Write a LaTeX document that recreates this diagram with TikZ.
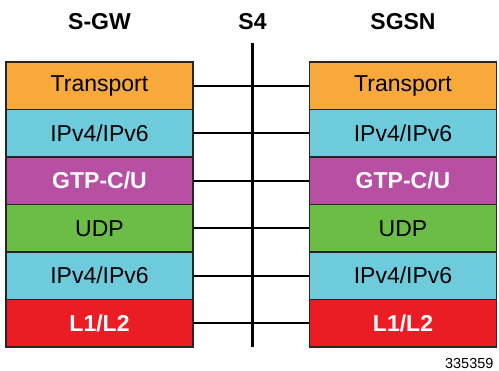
\documentclass[tikz,border=0pt]{standalone}
\usepackage{fontspec}
\setmainfont{Liberation Sans}
\definecolor{orng}{HTML}{F8A93C}
\definecolor{cyan}{HTML}{6DCBDC}
\definecolor{purp}{HTML}{B74FA2}
\definecolor{grn}{HTML}{6CBD45}
\definecolor{redd}{HTML}{EC1C24}
\tikzset{
  layer/.style={draw=black!85,line width=1.2pt,minimum width=187pt,minimum height=47.5pt,
    inner sep=0pt,font=\fontsize{23}{27}\selectfont},
  head/.style={font=\fontsize{23}{27}\selectfont\bfseries},
  link/.style={line width=2pt}
}
\begin{document}
\begin{tikzpicture}[x=1pt,y=-1pt]
  \useasboundingbox (0,0) rectangle (499,371);
  \node[head] (sgw) at (99.5,22) {S-GW};
  \node[head] (sfour) at (252.5,22) {S4};
  \node[head] (sgsn) at (403,22) {SGSN};
  \foreach \i/\txt/\col/\tc/\bf in {1/Transport/orng/black/,2/IPv4\slash IPv6/cyan/black/,
      3/GTP-C\slash U/purp/white/\bfseries,4/UDP/grn/black/,
      5/IPv4\slash IPv6/cyan/black/,6/L1\slash L2/redd/white/\bfseries}{
    \node[layer,fill=\col,text=\tc] (l\i) at (99.5,{62+47.5*(\i-0.5)}) {\bf\txt};
    \node[layer,fill=\col,text=\tc] (r\i) at (403,{62+47.5*(\i-0.5)}) {\bf\txt};
    \draw[link] (l\i.east) -- (r\i.west);
  }
  \coordinate (stop) at (252.5,43);
  \coordinate (sbot) at (252.5,347);
  \draw[line width=2.4pt] (stop) -- (sbot);
  \node[font=\fontsize{14.5}{16}\selectfont,anchor=east] (fig) at (497,364) {335359};
\end{tikzpicture}
\end{document}
